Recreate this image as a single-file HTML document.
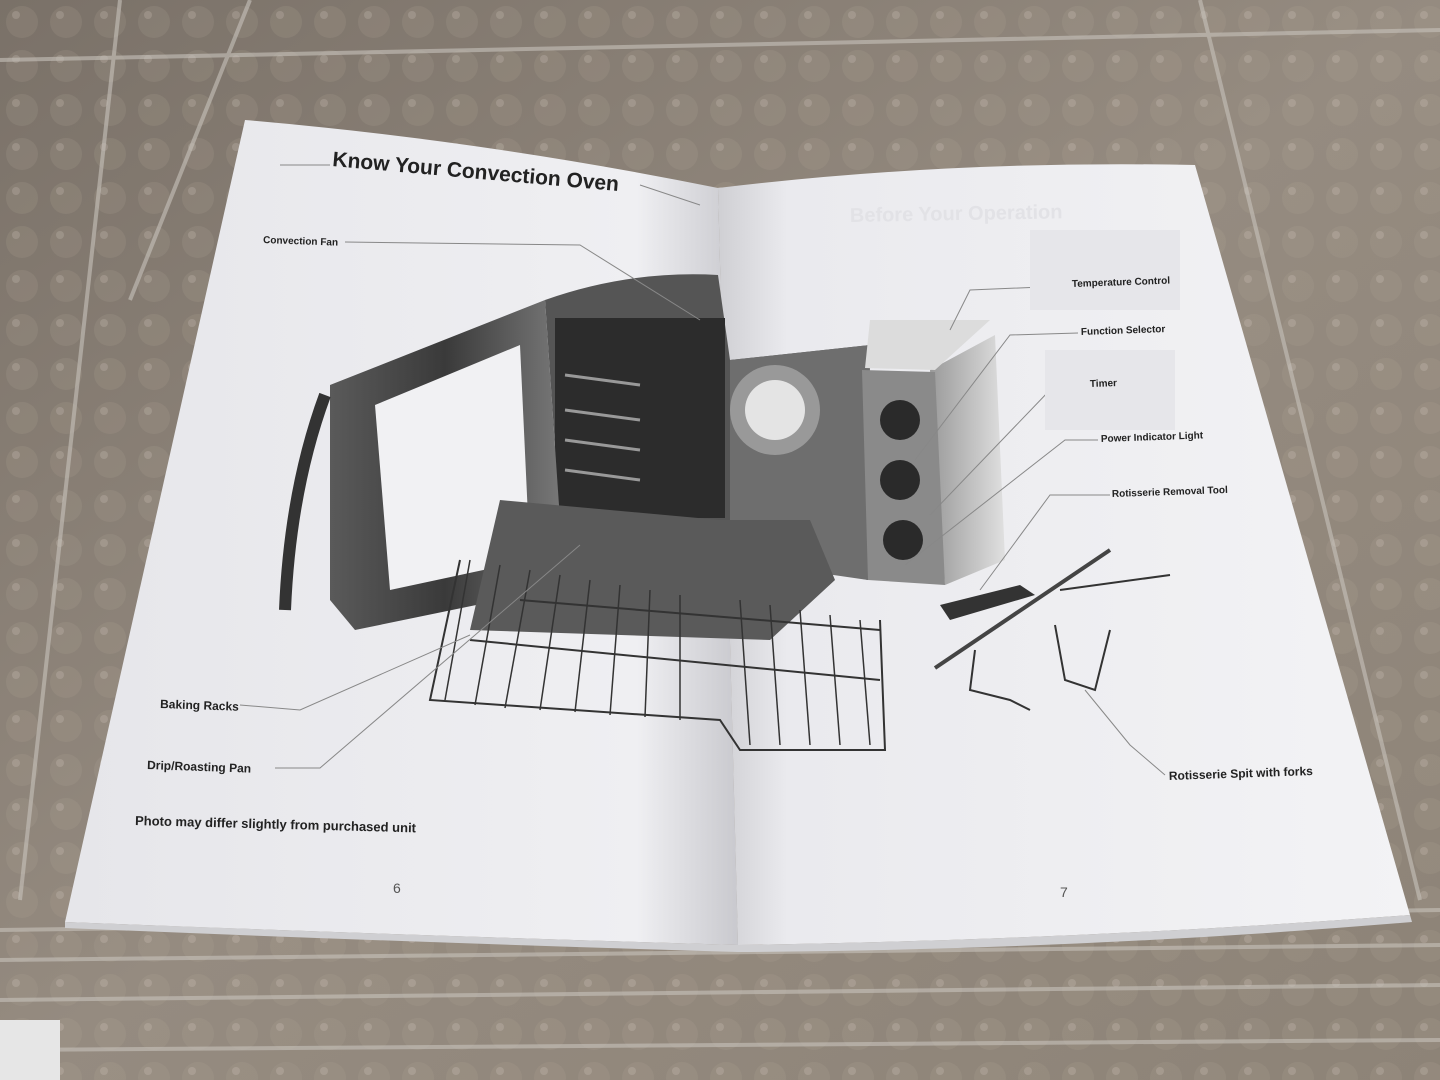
<!DOCTYPE html>
<html><head><meta charset="utf-8"><style>
html,body{margin:0;padding:0;width:1440px;height:1080px;overflow:hidden;background:#8a7f72}
svg{display:block}
text{font-family:"Liberation Sans",sans-serif;font-weight:bold;fill:#222}
</style></head><body>
<svg width="1440" height="1080" viewBox="0 0 1440 1080" xmlns="http://www.w3.org/2000/svg">
<defs>
<linearGradient id="bg" x1="0" y1="0" x2="1" y2="1">
<stop offset="0" stop-color="#7a7168"/><stop offset="0.5" stop-color="#958b80"/><stop offset="1" stop-color="#8d8377"/>
</linearGradient>
<pattern id="bub" width="44" height="44" patternUnits="userSpaceOnUse">
<circle cx="22" cy="22" r="16" fill="#b0a598" opacity="0.18"/>
<circle cx="16" cy="15" r="4" fill="#e0d8cd" opacity="0.2"/>
</pattern>
<linearGradient id="lp" x1="0" y1="0" x2="1" y2="0">
<stop offset="0" stop-color="#e6e6ea"/><stop offset="0.85" stop-color="#efeff2"/><stop offset="1" stop-color="#c9c9ce"/>
</linearGradient>
<linearGradient id="rp" x1="0" y1="0" x2="1" y2="0">
<stop offset="0" stop-color="#cfcfd3"/><stop offset="0.1" stop-color="#eaeaee"/><stop offset="1" stop-color="#f3f3f5"/>
</linearGradient>
<linearGradient id="ov" x1="0" y1="0" x2="1" y2="0">
<stop offset="0" stop-color="#5a5a5a"/><stop offset="0.5" stop-color="#3a3a3a"/><stop offset="1" stop-color="#777"/>
</linearGradient>
<linearGradient id="side" x1="0" y1="0" x2="1" y2="0">
<stop offset="0" stop-color="#9a9a9a"/><stop offset="1" stop-color="#e0e0e0"/>
</linearGradient>
</defs>
<rect width="1440" height="1080" fill="url(#bg)"/>
<rect width="1440" height="1080" fill="url(#bub)"/>
<g stroke="#c8c3bc" stroke-width="4" opacity="0.6">
<line x1="0" y1="930" x2="1440" y2="910"/><line x1="0" y1="960" x2="1440" y2="945"/>
<line x1="0" y1="1000" x2="1440" y2="985"/><line x1="0" y1="1050" x2="1440" y2="1040"/>
<line x1="120" y1="0" x2="20" y2="900"/><line x1="250" y1="0" x2="130" y2="300"/>
<line x1="1200" y1="0" x2="1420" y2="900"/><line x1="0" y1="60" x2="1440" y2="30"/>
</g>
<rect x="0" y="1020" width="60" height="60" fill="#e6e6e6"/>
<path d="M245,120 Q480,140 718,188 L738,945 Q400,935 65,922 Z" fill="url(#lp)"/>
<path d="M718,188 Q950,160 1195,165 L1410,915 Q1080,940 738,945 Z" fill="url(#rp)"/>
<path d="M65,922 Q400,935 738,945 Q1080,940 1410,915 L1412,922 Q1080,950 738,952 Q400,942 65,928Z" fill="#cfcfd2"/>
<!-- oven body -->
<path d="M545,300 Q630,270 718,275 L730,360 L870,345 L868,580 L720,550 L560,520 Z" fill="#555"/>
<path d="M730,360 L870,345 L868,580 L730,560 Z" fill="#6e6e6e"/>
<path d="M930,370 L995,335 L1005,560 L945,585 Z" fill="url(#side)"/>
<path d="M870,320 L990,320 L935,370 L865,368 Z" fill="#dcdcdc"/>
<path d="M862,370 L935,372 L945,585 L868,580 Z" fill="#8a8a8a"/>
<circle cx="900" cy="420" r="20" fill="#2a2a2a"/><circle cx="900" cy="480" r="20" fill="#2a2a2a"/><circle cx="903" cy="540" r="20" fill="#2a2a2a"/>
<rect x="555" y="318" width="170" height="200" fill="#2c2c2c"/>
<g stroke="#999" stroke-width="3"><line x1="565" y1="375" x2="640" y2="385"/><line x1="565" y1="410" x2="640" y2="420"/><line x1="565" y1="440" x2="640" y2="450"/><line x1="565" y1="470" x2="640" y2="480"/></g>
<circle cx="775" cy="410" r="45" fill="#999"/><circle cx="775" cy="410" r="30" fill="#e4e4e4"/>
<!-- door -->
<path d="M330,385 L545,300 L560,520 L525,595 L355,630 L330,600 Z" fill="url(#ov)"/>
<path d="M375,405 L520,345 L530,560 L390,590 Z" fill="#f1f1f3"/>
<path d="M325,395 Q290,490 285,610" stroke="#333" stroke-width="12" fill="none"/>
<path d="M500,500 L720,520 L810,520 L835,580 L770,640 L470,630 Z" fill="#5a5a5a"/>
<g stroke="#333" stroke-width="2" fill="none">
<path d="M460,560 L430,700 L720,720 L740,750 L885,750 L880,620"/>
<path d="M520,600 L880,630"/>
<path d="M470,640 L880,680"/>
</g>
<g stroke="#333" stroke-width="1.5">
<line x1="470" y1="560" x2="445" y2="700"/><line x1="500" y1="565" x2="475" y2="705"/><line x1="530" y1="570" x2="505" y2="708"/>
<line x1="560" y1="575" x2="540" y2="710"/><line x1="590" y1="580" x2="575" y2="712"/><line x1="620" y1="585" x2="610" y2="715"/>
<line x1="650" y1="590" x2="645" y2="717"/><line x1="680" y1="595" x2="680" y2="720"/><line x1="740" y1="600" x2="750" y2="745"/>
<line x1="770" y1="605" x2="780" y2="745"/><line x1="800" y1="610" x2="810" y2="745"/><line x1="830" y1="615" x2="840" y2="745"/><line x1="860" y1="620" x2="870" y2="745"/>
</g>
<path d="M940,605 L1020,585 L1035,595 L950,620 Z" fill="#333"/>
<line x1="935" y1="668" x2="1110" y2="550" stroke="#444" stroke-width="4"/>
<path d="M1060,590 L1170,575" stroke="#333" stroke-width="2" fill="none"/>
<path d="M1055,625 L1065,680 L1095,690 L1110,630" stroke="#333" stroke-width="2" fill="none"/>
<path d="M975,650 L970,690 L1010,700 L1030,710" stroke="#333" stroke-width="2" fill="none"/>
<g stroke="#888" stroke-width="1" fill="none">
<path d="M345,242 L580,245 L700,320"/>
<path d="M240,705 L300,710 L470,635"/>
<path d="M275,768 L320,768 L580,545"/>
<path d="M1065,286 L970,290 L950,330"/>
<path d="M1078,333 L1010,335 L915,460"/>
<path d="M1090,385 L1050,390 L930,515"/>
<path d="M1098,440 L1065,440 L905,565"/>
<path d="M1110,495 L1050,495 L980,590"/>
<path d="M1165,775 L1130,745 L1085,690"/>
<path d="M280,165 L330,165"/>
<path d="M640,185 L700,205"/>
</g>
<text x="850" y="222" font-size="20" style="fill:#e2e2e6" transform="rotate(-1 850 222)">Before Your Operation</text>
<rect x="1030" y="230" width="150" height="80" fill="#e6e6ea"/>
<rect x="1045" y="350" width="130" height="80" fill="#e6e6ea"/>
<text x="332" y="166" font-size="21" transform="rotate(5 332 166)">Know Your Convection Oven</text>
<text x="263" y="243" font-size="10" transform="rotate(2 263 243)">Convection Fan</text>
<text x="160" y="708" font-size="12" transform="rotate(2 160 708)">Baking Racks</text>
<text x="147" y="769" font-size="12" transform="rotate(2 147 769)">Drip/Roasting Pan</text>
<text x="135" y="825" font-size="13" transform="rotate(1.5 135 825)">Photo may differ slightly from purchased unit</text>
<text x="393" y="893" font-size="14" style="font-weight:normal;fill:#555">6</text>
<text x="1060" y="897" font-size="14" style="font-weight:normal;fill:#555">7</text>
<text x="1072" y="287" font-size="10" transform="rotate(-2 1072 287)">Temperature Control</text>
<text x="1081" y="335" font-size="10" transform="rotate(-2 1081 335)">Function Selector</text>
<text x="1090" y="387" font-size="10" transform="rotate(-2 1090 387)">Timer</text>
<text x="1101" y="442" font-size="10" transform="rotate(-2 1101 442)">Power Indicator Light</text>
<text x="1112" y="497" font-size="10" transform="rotate(-2 1112 497)">Rotisserie Removal Tool</text>
<text x="1169" y="780" font-size="12" transform="rotate(-2 1169 780)">Rotisserie Spit with forks</text>
</svg>
</body></html>
